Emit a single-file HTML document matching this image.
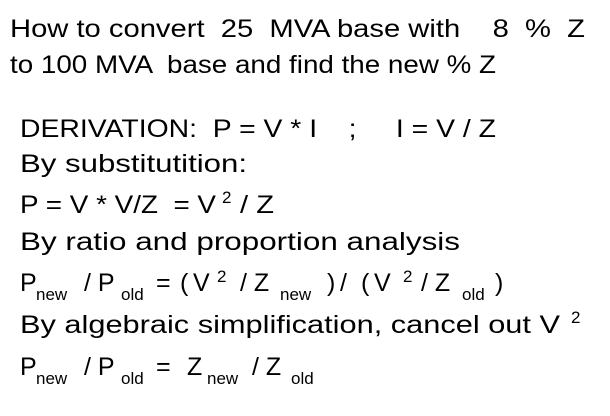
<!DOCTYPE html>
<html><head><meta charset="utf-8"><style>
html,body{margin:0;padding:0;background:#fff;}
svg{display:block;}
text{font-family:"Liberation Sans",sans-serif;fill:#000;}
.m{font-size:25px;}
.s{font-size:17px;}
</style></head><body>
<svg width="610" height="416" viewBox="0 0 610 416" xmlns="http://www.w3.org/2000/svg">
<text class="m" x="10" y="37" textLength="575" lengthAdjust="spacingAndGlyphs" xml:space="preserve">How to convert  25  MVA base with    8  %  Z</text>
<text class="m" x="10" y="73" textLength="486" lengthAdjust="spacingAndGlyphs" xml:space="preserve">to 100 MVA  base and find the new % Z</text>
<text class="m" x="20" y="137" textLength="476" lengthAdjust="spacingAndGlyphs" xml:space="preserve">DERIVATION:  P = V * I    ;     I = V / Z</text>
<text class="m" x="20" y="172" textLength="227" lengthAdjust="spacingAndGlyphs">By substitutition:</text>
<text class="m" x="20" y="213" textLength="196" lengthAdjust="spacingAndGlyphs" xml:space="preserve">P = V * V/Z  = V</text>
<text class="s" x="222" y="203">2</text>
<text class="m" x="240" y="213" textLength="34" lengthAdjust="spacingAndGlyphs">/ Z</text>
<text class="m" x="20" y="250" textLength="440" lengthAdjust="spacingAndGlyphs">By ratio and proportion analysis</text>
<!-- line 7 -->
<text class="m" x="20" y="291">P</text>
<text class="s" x="36" y="300">new</text>
<text class="m" x="84" y="291">/ P</text>
<text class="s" x="121" y="300">old</text>
<text class="m" x="156" y="291">=</text>
<text class="m" x="180" y="291">(</text>
<text class="m" x="193" y="291">V</text>
<text class="s" x="217" y="282">2</text>
<text class="m" x="240" y="291">/ Z</text>
<text class="s" x="280" y="300">new</text>
<text class="m" x="327" y="291">)</text>
<text class="m" x="340" y="291">/</text>
<text class="m" x="361" y="291">(</text>
<text class="m" x="374" y="291">V</text>
<text class="s" x="403" y="282">2</text>
<text class="m" x="421" y="291">/ Z</text>
<text class="s" x="462" y="300">old</text>
<text class="m" x="495" y="291">)</text>
<text class="m" x="20" y="333" textLength="540" lengthAdjust="spacingAndGlyphs">By algebraic simplification, cancel out V</text>
<text class="s" x="571" y="323">2</text>
<!-- line 9 -->
<text class="m" x="20" y="375">P</text>
<text class="s" x="36" y="384">new</text>
<text class="m" x="84" y="375">/ P</text>
<text class="s" x="121" y="384">old</text>
<text class="m" x="156" y="375">=</text>
<text class="m" x="187" y="375">Z</text>
<text class="s" x="207" y="384">new</text>
<text class="m" x="252" y="375">/ Z</text>
<text class="s" x="291" y="384">old</text>
</svg>
</body></html>
